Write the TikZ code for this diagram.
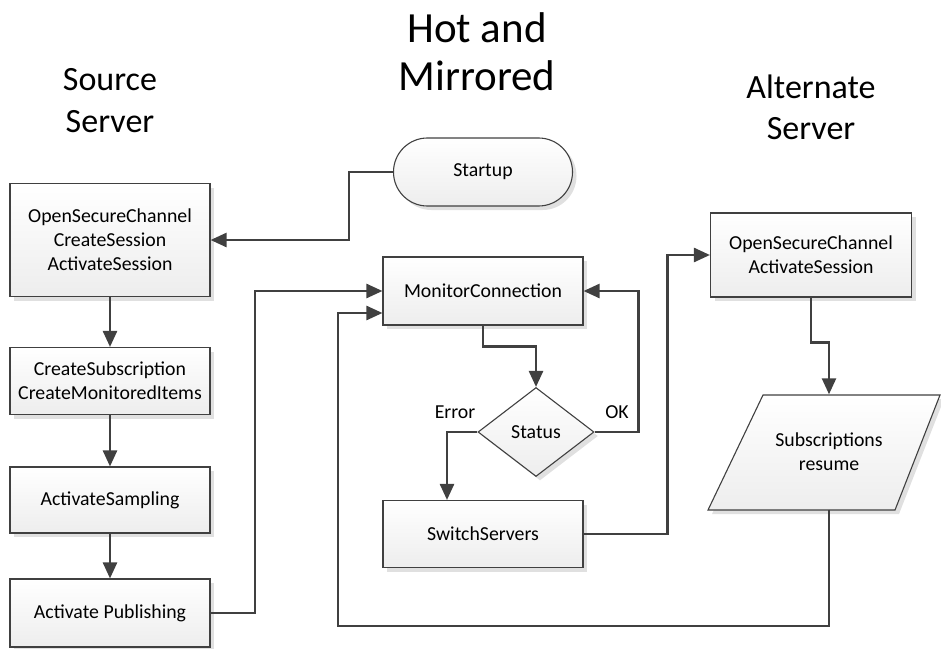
\documentclass[tikz,border=0pt]{standalone}
\usepackage{fontspec}
\setmainfont{Carlito}
\usetikzlibrary{arrows.meta, shapes.geometric, shadows, calc}
\definecolor{linegray}{HTML}{404040}
\tikzset{>={Triangle[length=16pt,width=14pt]},
  boxtext/.style={font=\fontsize{19.8}{24}\selectfont, align=center},
  boxlook/.style={draw=linegray, line width=1.1pt, top color=white, bottom color=black!7,
    drop shadow={shadow xshift=4pt, shadow yshift=-4pt, fill=black!12, opacity=1}},
  procbox/.style={boxlook, boxtext, inner sep=0pt, minimum width=200pt},
  flow/.style={draw=linegray, line width=2.5pt}}

\begin{document}
\begin{tikzpicture}[x=1pt,y=-1pt]
\useasboundingbox (0,0) rectangle (941,648);
% titles
\node[align=center, font=\fontsize{43}{48}\selectfont] (title) at (477,52) {Hot and\\Mirrored};
\node[align=center, font=\fontsize{34}{42}\selectfont] (srctitle) at (110,101) {Source\\Server};
\node[align=center, font=\fontsize{34}{41}\selectfont] (alttitle) at (811,107) {Alternate\\Server};
% source server column
\node[procbox, minimum height=113pt] (open) at (110,240) {OpenSecureChannel\\CreateSession\\ActivateSession};
\node[procbox, minimum height=67pt] (subscr) at (110,381) {CreateSubscription\\CreateMonitoredItems};
\node[procbox, minimum height=66pt] (sampl) at (110,500) {ActivateSampling};
\node[procbox, minimum height=68pt] (publ) at (110,613) {Activate Publishing};
% middle column
\node[procbox, rounded corners=33.9pt, minimum width=179pt, minimum height=68pt] (start) at (483,172) {Startup};
\node[procbox, minimum height=68pt] (monit) at (483,291) {MonitorConnection};
\node[procbox, diamond, aspect=1.3, minimum width=116pt, minimum height=89pt] (stat) at (536,432) {Status};
\node[procbox, minimum height=67pt] (switch) at (483,534) {SwitchServers};
\node[boxtext] (err) at (455,412) {Error};
\node[boxtext] (ok) at (617,412) {OK};
% alternate server column
\node[procbox, minimum width=201pt, minimum height=84pt] (altopen) at (811,255) {OpenSecureChannel\\ActivateSession};
\path[boxlook] (708,510) -- (763,395) -- (940,395) -- (895,510) -- cycle;
\node[boxtext, minimum height=115pt, inner sep=0pt] (resume) at (829,452) {Subscriptions\\resume};
\coordinate (sbend) at (349,240);
\coordinate (pbend) at (255,613);
\coordinate (loop) at (338,626);
% connectors
\draw[flow,->] (start.west) -| (sbend) -- (open.east);
\draw[flow,->] (open) -- (subscr);
\draw[flow,->] (subscr) -- (sampl);
\draw[flow,->] (sampl) -- (publ);
\draw[flow,->] (publ.east) -- (pbend) |- (monit.west);
\draw[flow,->] (resume.south) |- (loop) |- ($(monit.west)+(0,22)$);
\draw[flow,->] (monit.south) -- ++(0,21) -| (stat.north);
\draw[flow,->] (stat.west) -| ($(switch.north)+(-36,0)$);
\draw[flow,->] (stat.east) -- ++(44,0) |- (monit.east);
\draw[flow,->] (switch.east) -- ++(84,0) |- (altopen.west);
\draw[flow,->] (altopen.south) -- ++(0,45) -| (resume.north);
\end{tikzpicture}
\end{document}
